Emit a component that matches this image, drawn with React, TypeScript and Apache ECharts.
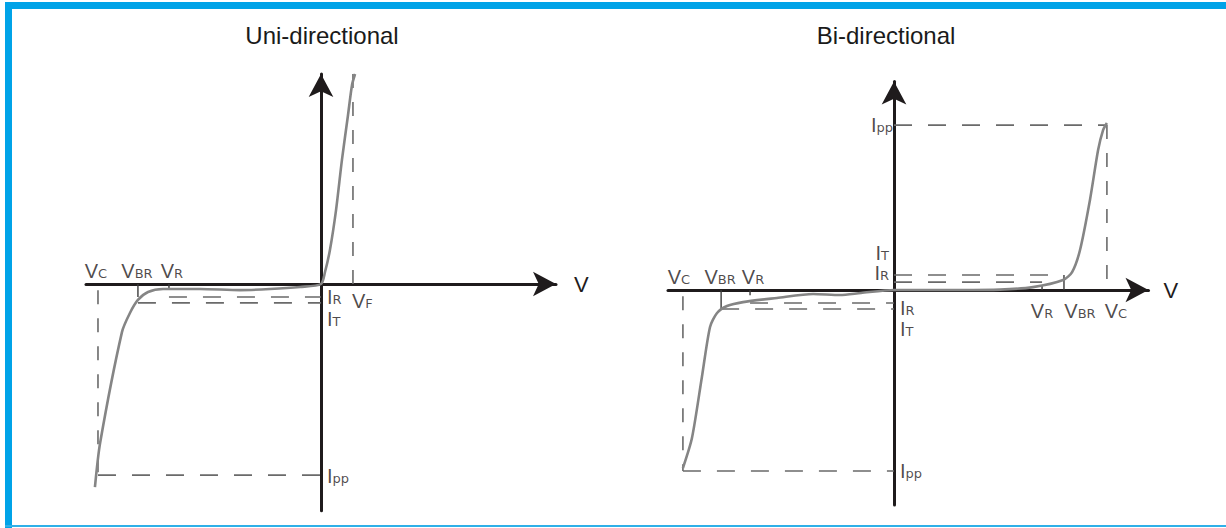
import React, { useEffect, useRef } from "react";
import * as echarts from "echarts";

// ---------- data (arbitrary V / I units) ----------
const chartTitles = ["Uni-directional", "Bi-directional"];
const axisNames = ["V", "V"];

// Uni-directional I-V curve
const uniV = [-9.62, -9.4, -8.47, -8.13, -7.79, -7.36, -6.72, -5.15, -3.45, -2.17, -0.89, 0, 0.17, 0.38, 0.64, 0.89, 1.15, 1.32, 1.45];
const uniI = [-9.67, -7.57, -2.29, -1.38, -0.76, -0.38, -0.24, -0.24, -0.29, -0.24, -0.14, 0, 0.57, 1.62, 3.52, 5.9, 8.05, 9.48, 10.0];
// key voltages: [Vc, VBR, VR, VF]
const uniVolts = [-9.49, -7.79, -6.47, 1.36];
// key currents: [Ipp, IR, IT, top of VF marker]
const uniAmps = [-9.1, -0.62, -0.9, 10.0];

// Bi-directional I-V curve
const biV = [-9.34, -8.94, -8.5, -8.14, -7.83, -7.39, -6.68, -5.18, -3.58, -2.39, -1.46, 0, 2.9, 4.69, 6.15, 7.48, 7.88, 8.23, 8.67, 9.03, 9.25, 9.42];
const biI = [-8.54, -7.1, -4.17, -1.77, -1.1, -0.77, -0.58, -0.38, -0.19, -0.24, -0.14, 0, 0, 0.02, 0.14, 0.48, 0.86, 1.92, 4.32, 6.71, 7.67, 8.01];
// positive side: [Vc, VBR, VR]   negative side: [Vc, VBR, VR]
const biVoltsPos = [9.42, 7.52, 6.55];
const biVoltsNeg = [-9.34, -7.65, -6.37];
// positive side: [Ipp, IT, IR]   negative side: [Ipp, IR, IT]
const biAmpsPos = [7.91, 0.72, 0.38];
const biAmpsNeg = [-8.68, -0.62, -0.91];

// label texts (main letter | small letters)
const uniLabelTexts = [["V", "C"], ["V", "BR"], ["V", "R"], ["I", "R"], ["I", "T"], ["V", "F"], ["I", "pp"]];
const biLabelTexts = [["V", "C"], ["V", "BR"], ["V", "R"], ["I", "T"], ["I", "R"], ["I", "R"], ["I", "T"], ["V", "R"], ["V", "BR"], ["V", "C"], ["I", "pp"], ["I", "pp"]];

// ---------- styles ----------
const INK = "#1f1b1c";
const CURVE = "#858585";
const DASH = "#6a6a6a";

const rich = {
  m: { fontSize: 20, lineHeight: 18, fontFamily: "Liberation Sans", color: INK, verticalAlign: "bottom" },
  s: { fontSize: 13, lineHeight: 13, fontFamily: "DejaVu Sans", color: INK, verticalAlign: "bottom", padding: [0, 0, 1, 0] },
};
const fmt = (t: string[]) => `{m|${t[0]}}{s|${t[1]}}`;

const zip = (xs: number[], ys: number[]) => xs.map((x, i) => [x, ys[i]]);

function seg(data: number[][], grid: number, kind: "h" | "v" | "tick") {
  const ls =
    kind === "tick"
      ? { color: "#3a3a3a", width: 1.4, type: "solid" as const }
      : { color: DASH, width: 1.6, type: (kind === "h" ? [18, 16] : [14, 14]) as any };
  return {
    type: "line",
    xAxisIndex: grid,
    yAxisIndex: grid,
    data,
    symbol: "none",
    silent: true,
    lineStyle: ls,
    z: 2,
  };
}

function curve(data: number[][], grid: number) {
  return {
    type: "line",
    xAxisIndex: grid,
    yAxisIndex: grid,
    data,
    symbol: "none",
    smooth: 0.25,
    silent: true,
    lineStyle: { color: CURVE, width: 2.6 },
    z: 3,
  };
}

function labels(
  grid: number,
  items: { p: number[]; t: string[]; align: string; va: string; off: number[] }[]
) {
  return {
    type: "scatter",
    xAxisIndex: grid,
    yAxisIndex: grid,
    symbolSize: 0,
    silent: true,
    z: 5,
    data: items.map((it) => ({
      value: it.p,
      label: {
        show: true,
        position: [0, 0],
        align: it.align,
        verticalAlign: it.va,
        offset: it.off,
        formatter: fmt(it.t),
        rich,
      },
    })),
  };
}

function axisLineCfg() {
  return {
    show: true,
    onZero: true,
    symbol: ["none", "arrow"],
    symbolSize: [18.5, 23],
    lineStyle: { color: INK, width: 3 },
  };
}

function buildOption() {
  const [uVc, uVbr, uVr, uVf] = uniVolts;
  const [uIpp, uIr, uIt, uTop] = uniAmps;
  const [pVc, pVbr, pVr] = biVoltsPos;
  const [nVc, nVbr, nVr] = biVoltsNeg;
  const [pIpp, pIt, pIr] = biAmpsPos;
  const [nIpp, nIr, nIt] = biAmpsNeg;
  const L = uniLabelTexts;
  const B = biLabelTexts;

  const hidden = {
    axisTick: { show: false },
    axisLabel: { show: false },
    splitLine: { show: false },
  };
  const titleStyle = { fontSize: 24, fontWeight: "normal", fontFamily: "Liberation Sans", color: "#1a1a1a" };

  return {
    animation: false,
    backgroundColor: "#ffffff",
    title: [
      { text: chartTitles[0], left: 322, top: 23, padding: 0, textAlign: "center", textStyle: titleStyle },
      { text: chartTitles[1], left: 886, top: 23, padding: 0, textAlign: "center", textStyle: titleStyle },
    ],
    grid: [
      { left: 86, top: 74, width: 470, height: 436.8, outerBoundsMode: "none", containLabel: false },
      { left: 668, top: 81.5, width: 480.5, height: 423.5, outerBoundsMode: "none", containLabel: false },
    ],
    xAxis: [
      {
        type: "value", gridIndex: 0, min: -10, max: 10, ...hidden,
        axisLine: axisLineCfg(),
        name: axisNames[0], nameLocation: "end", nameGap: 18,
        nameTextStyle: { fontSize: 22, color: INK, fontFamily: "Liberation Sans" },
      },
      {
        type: "value", gridIndex: 1, min: -10, max: 11.26, ...hidden,
        axisLine: axisLineCfg(),
        name: axisNames[1], nameLocation: "end", nameGap: 15,
        nameTextStyle: { fontSize: 22, color: INK, fontFamily: "Liberation Sans" },
      },
    ],
    yAxis: [
      { type: "value", gridIndex: 0, min: -10.8, max: 10, ...hidden, axisLine: axisLineCfg() },
      { type: "value", gridIndex: 1, min: -10.31, max: 10, ...hidden, axisLine: axisLineCfg() },
    ],
    graphic: [
      { type: "rect", shape: { x: 5, y: 2, width: 1221, height: 7 }, style: { fill: "#00a3e8" }, silent: true },
      { type: "rect", shape: { x: 5, y: 2, width: 7, height: 526 }, style: { fill: "#00a3e8" }, silent: true },
      { type: "rect", shape: { x: 5, y: 525, width: 1221, height: 2 }, style: { fill: "#2fb0e8" }, silent: true },
    ],
    series: [
      // ---- uni-directional ----
      seg([[uVc, uIpp], [0, uIpp]], 0, "h"),
      seg([[uVr, uIr], [0, uIr]], 0, "h"),
      seg([[uVbr, uIt], [0, uIt]], 0, "h"),
      seg([[uVc, -0.3], [uVc, uIpp]], 0, "v"),
      seg([[uVf, 0], [uVf, uTop]], 0, "v"),
      seg([[uVbr, 0], [uVbr, uIr]], 0, "tick"),
      seg([[uVr, 0], [uVr, -0.2]], 0, "tick"),
      curve(zip(uniV, uniI), 0),
      labels(0, [
        { p: [uVc, 0], t: L[0], align: "center", va: "bottom", off: [-2, -3] },
        { p: [uVbr, 0], t: L[1], align: "center", va: "bottom", off: [-1, -3] },
        { p: [uVr, 0], t: L[2], align: "center", va: "bottom", off: [3, -3] },
        { p: [0, uIr], t: L[3], align: "left", va: "middle", off: [6, 1] },
        { p: [0, uIt], t: L[4], align: "left", va: "middle", off: [6, 17] },
        { p: [uVf, 0], t: L[5], align: "left", va: "middle", off: [-1, 18] },
        { p: [0, uIpp], t: L[6], align: "left", va: "middle", off: [6, 2] },
      ]),
      // ---- bi-directional ----
      seg([[0, pIpp], [pVc, pIpp]], 1, "h"),
      seg([[0, pIt], [pVbr, pIt]], 1, "h"),
      seg([[0, pIr], [pVr, pIr]], 1, "h"),
      seg([[nVc, nIpp], [0, nIpp]], 1, "h"),
      seg([[nVr, nIr], [0, nIr]], 1, "h"),
      seg([[nVbr, nIt], [0, nIt]], 1, "h"),
      seg([[pVc, pIpp], [pVc, 0]], 1, "v"),
      seg([[nVc, -0.3], [nVc, nIpp]], 1, "v"),
      seg([[pVbr, 0], [pVbr, pIt]], 1, "tick"),
      seg([[pVr, 0], [pVr, 0.2]], 1, "tick"),
      seg([[nVbr, 0], [nVbr, nIt]], 1, "tick"),
      seg([[nVr, 0], [nVr, -0.25]], 1, "tick"),
      curve(zip(biV, biI), 1),
      labels(1, [
        { p: [nVc, 0], t: B[0], align: "center", va: "bottom", off: [-4, -3] },
        { p: [nVbr, 0], t: B[1], align: "center", va: "bottom", off: [-1, -3] },
        { p: [nVr, 0], t: B[2], align: "center", va: "bottom", off: [3, -3] },
        { p: [0, pIt], t: B[3], align: "right", va: "middle", off: [-5, -21] },
        { p: [0, pIr], t: B[4], align: "right", va: "middle", off: [-5, -8] },
        { p: [0, nIr], t: B[5], align: "left", va: "middle", off: [6, 6] },
        { p: [0, nIt], t: B[6], align: "left", va: "middle", off: [6, 21] },
        { p: [pVr, 0], t: B[7], align: "center", va: "middle", off: [0, 22] },
        { p: [pVbr, 0], t: B[8], align: "center", va: "middle", off: [16, 22] },
        { p: [pVc, 0], t: B[9], align: "center", va: "middle", off: [9, 22] },
        { p: [0, pIpp], t: B[10], align: "right", va: "middle", off: [-1, 1] },
        { p: [0, nIpp], t: B[11], align: "left", va: "middle", off: [6, 1] },
      ]),
    ],
  };
}

export default function App() {
  const ref = useRef<HTMLDivElement>(null);
  useEffect(() => {
    if (!ref.current) return;
    const chart = echarts.init(ref.current, undefined, { renderer: "svg" });
    chart.setOption(buildOption() as any);
    return () => chart.dispose();
  }, []);
  return (
    <div
      ref={ref}
      style={{ position: "fixed", left: 0, top: 0, width: 1226, height: 528, background: "#fff" }}
    />
  );
}
